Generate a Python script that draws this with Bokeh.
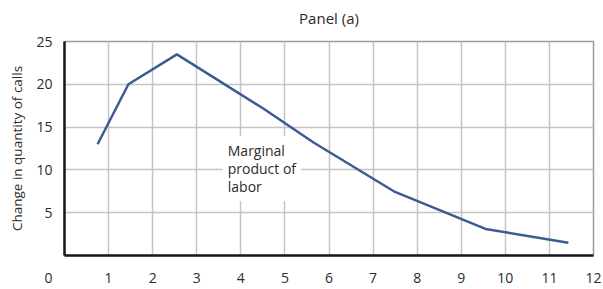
from bokeh.plotting import figure
from bokeh.models import FixedTicker, Label, Range1d
from bokeh.embed import file_html
from bokeh.resources import INLINE

# Data
workers = [0.75, 1.45, 2.55, 4.5, 5.65, 7.47, 9.55, 11.43]
calls_change = [13.0, 20.0, 23.5, 17.2, 13.2, 7.5, 3.1, 1.5]
x_ticks = [0, 1, 2, 3, 4, 5, 6, 7, 8, 9, 10, 11, 12]
y_ticks = [5, 10, 15, 20, 25]
x_grid = [1, 2, 3, 4, 5, 6, 7, 8, 9, 10, 11]
y_grid = [5, 10, 15, 20]
title_text = "Panel (a)"
y_label = "Change in quantity of calls"
curve_label = "Marginal\nproduct of\nlabor"

FONT = "Open Sans"
TXT = "#2b2b2b"

p = figure(width=603, height=289, output_backend="svg", toolbar_location=None,
           x_range=Range1d(0, 12), y_range=Range1d(0, 25),
           min_border_left=64, min_border_right=10, min_border_top=41,
           min_border_bottom=31)

p.title.text = title_text + "\n"
p.title.align = "center"
p.title.text_font = FONT
p.title.text_font_size = "15px"
p.title.text_font_style = "normal"
p.title.text_color = TXT
p.title.text_line_height = 0.45
p.title.standoff = 10

p.outline_line_color = "#9a9a9a"
p.outline_line_width = 1.5
p.background_fill_color = "white"
p.border_fill_color = "white"

# axes
p.xaxis.ticker = FixedTicker(ticks=x_ticks)
p.yaxis.ticker = FixedTicker(ticks=y_ticks)
# origin label sits left of the corner, as in the reference
p.xaxis.major_label_overrides = {0: "0\u2007\u2007\u2007\u2007"}
for ax in (p.xaxis[0], p.yaxis[0]):
    ax.axis_line_color = "#1a1a1a"
    ax.axis_line_width = 2.5
    ax.major_tick_line_color = None
    ax.minor_tick_line_color = None
    ax.major_tick_out = 0
    ax.major_tick_in = 0
    ax.minor_tick_out = 0
    ax.major_label_text_font = FONT
    ax.major_label_text_font_size = "14px"
    ax.major_label_text_color = TXT
p.yaxis.major_label_standoff = 12
p.xaxis.major_label_standoff = 12
p.yaxis.axis_label = y_label
p.yaxis.axis_label_text_font = FONT
p.yaxis.axis_label_text_font_size = "13.5px"
p.yaxis.axis_label_text_font_style = "normal"
p.yaxis.axis_label_text_color = TXT
p.yaxis.axis_label_standoff = 7

# grid
p.xgrid.ticker = FixedTicker(ticks=x_grid)
p.ygrid.ticker = FixedTicker(ticks=y_grid)
p.grid.grid_line_color = "#c4c4c4"
p.grid.grid_line_width = 1.5

p.line(workers, calls_change, line_color="#3d5b93", line_width=2.5)

p.add_layout(Label(x=3.59, y=13.95, text=curve_label, text_align="left",
                   text_baseline="top", text_font=FONT, text_font_size="14px",
                   text_color=TXT, background_fill_color="white",
                   text_line_height=0.95, padding=5))

open("out.html", "w").write(file_html(p, INLINE))
